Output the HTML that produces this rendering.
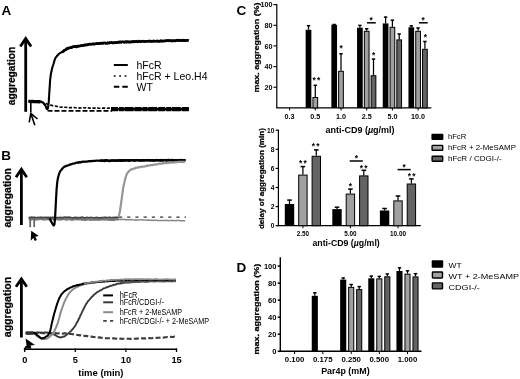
<!DOCTYPE html>
<html><head><meta charset="utf-8"><title>Figure</title>
<style>
html,body{margin:0;padding:0;background:#fff;}
body{width:520px;height:379px;overflow:hidden;}
svg{display:block;font-family:"Liberation Sans",sans-serif;filter:grayscale(1);}
</style></head><body>
<svg width="520" height="379" viewBox="0 0 520 379">
<rect width="520" height="379" fill="#fff"/>
<text x="1.6" y="14.5" text-anchor="start" font-size="13.5" font-weight="bold" fill="#000" >A</text>
<text x="1.3" y="159.8" text-anchor="start" font-size="13.5" font-weight="bold" fill="#000" >B</text>
<text x="236.5" y="15.4" text-anchor="start" font-size="13.5" font-weight="bold" fill="#000" >C</text>
<text x="236.5" y="272.2" text-anchor="start" font-size="13.5" font-weight="bold" fill="#000" >D</text>
<path d="M25.7,111.8 L25.7,38.7" stroke="#000" stroke-width="2.8" fill="none"/>
<path d="M20.299999999999997,46.5 L25.7,38.6 L31.1,46.5" stroke="#000" stroke-width="2.8" fill="none" stroke-linejoin="miter" stroke-linecap="butt"/>
<text transform="translate(14.8,76) rotate(-90)" text-anchor="middle" font-size="11.6" font-weight="bold" textLength="58.5" lengthAdjust="spacingAndGlyphs" stroke="#000" stroke-width="0.25">aggregation</text>
<path d="M28.5,100.8 L29.2,101.1 L29.9,101.0 L30.6,101.1 L31.3,101.2 L32.0,100.8 L32.7,100.8 L33.4,101.4 L34.1,101.0 L34.8,101.0 L35.5,101.6 L36.2,101.3 L36.9,101.6 L37.6,101.3 L38.3,101.4 L39.0,101.0 L39.7,101.4 L40.4,101.6 L41.1,101.5 L41.8,101.9 L42.5,102.2 L43.2,102.4 L43.9,103.7 L44.6,104.5 L45.3,105.4 L46.0,106.9 L46.7,108.9 L47.4,109.1 L48.1,107.7 L48.8,101.1 L49.5,89.6 L50.2,79.3 L50.9,73.8 L51.6,70.7 L52.3,67.5 L53.0,65.5 L53.7,63.3 L54.4,60.7 L55.1,58.8 L55.8,57.4 L56.5,56.8 L57.2,55.6 L57.9,55.0 L58.6,54.1 L59.3,53.7 L60.0,53.2 L60.7,52.7 L61.4,52.3 L62.1,51.8 L62.8,51.6 L63.5,50.9 L64.2,50.6 L64.9,50.1 L65.6,49.8 L66.3,49.2 L67.0,48.5 L67.7,48.7 L68.4,48.5 L69.1,48.2 L69.8,47.8 L70.5,47.7 L71.2,47.2 L71.9,47.5 L72.6,47.2 L73.3,46.8 L74.0,46.6 L74.7,47.0 L75.4,47.0 L76.1,46.2 L76.8,46.6 L77.5,46.3 L78.2,46.0 L78.9,46.0 L79.6,46.2 L80.3,46.2 L81.0,45.5 L81.7,45.8 L82.4,45.2 L83.1,45.6 L83.8,45.2 L84.5,45.5 L85.2,45.4 L85.9,45.0 L86.6,45.2 L87.3,44.6 L88.0,44.4 L88.7,44.6 L89.4,44.1 L90.1,44.1 L90.8,44.2 L91.5,44.2 L92.2,43.8 L92.9,43.7 L93.6,44.2 L94.3,43.7 L95.0,44.1 L95.7,44.0 L96.4,43.6 L97.1,43.6 L97.8,43.6 L98.5,43.6 L99.2,43.5 L99.9,43.4 L100.6,43.4 L101.3,43.6 L102.0,43.3 L102.7,43.2 L103.4,43.3 L104.1,42.9 L104.8,42.9 L105.5,43.4 L106.2,43.0 L106.9,43.0 L107.6,42.6 L108.3,42.8 L109.0,42.9 L109.7,42.5 L110.4,42.9 L111.1,42.8 L111.8,42.4 L112.5,42.7 L113.2,42.6 L113.9,42.7 L114.6,42.4 L115.3,42.6 L116.0,42.6 L116.7,42.1 L117.4,42.1 L118.1,42.5 L118.8,42.6 L119.5,42.1 L120.2,42.2 L120.9,42.3 L121.6,42.0 L122.3,42.0 L123.0,42.0 L123.7,42.0 L124.4,42.1 L125.1,41.9 L125.8,41.9 L126.5,42.1 L127.2,41.6 L127.9,41.9 L128.6,42.0 L129.3,41.7 L130.0,41.6 L130.7,42.0 L131.4,41.6 L132.1,41.5 L132.8,41.7 L133.5,41.8 L134.2,41.4 L134.9,41.5 L135.6,41.5 L136.3,41.8 L137.0,41.5 L137.7,41.8 L138.4,41.3 L139.1,41.4 L139.8,41.6 L140.5,41.7 L141.2,41.4 L141.9,41.2 L142.6,41.2 L143.3,41.4 L144.0,41.2 L144.7,41.6 L145.4,41.6 L146.1,41.1 L146.8,41.2 L147.5,41.5 L148.2,41.4 L148.9,41.5 L149.6,41.1 L150.3,41.0 L151.0,41.1 L151.7,41.4 L152.4,41.0 L153.1,41.1 L153.8,41.1 L154.5,41.1 L155.2,41.1 L155.9,41.4 L156.6,40.8 L157.3,40.7 L158.0,41.4 L158.7,41.3 L159.4,41.4 L160.1,41.0 L160.8,41.3 L161.5,41.3 L162.2,40.7 L162.9,41.1 L163.6,41.1 L164.3,41.0 L165.0,40.9 L165.7,40.7 L166.4,40.7 L167.1,40.6 L167.8,40.5 L168.5,40.9 L169.2,40.6 L169.9,41.0 L170.6,40.4 L171.3,41.0 L172.0,40.8 L172.7,41.0 L173.4,40.9 L174.1,40.9 L174.8,40.7 L175.5,40.3 L176.2,40.8 L176.9,40.4 L177.6,40.4 L178.3,40.7 L179.0,40.6 L179.7,40.5 L180.4,40.8 L181.1,40.6 L181.8,40.4 L182.5,40.3 L183.2,40.7 L183.9,40.4 L184.6,40.6 L185.3,40.3 L186.0,40.2 L186.7,40.4 L187.4,40.6 L188.1,40.1 L188.8,40.5" fill="none" stroke="#000" stroke-width="2.1" stroke-linejoin="round" stroke-linecap="butt" />
<path d="M62.0,52.4 L62.8,51.8 L63.6,51.2 L64.4,50.0 L65.2,50.0 L66.0,49.7 L66.8,48.5 L67.6,48.3 L68.4,48.0 L69.2,47.9 L70.0,47.6 L70.8,47.5 L71.6,47.6 L72.4,46.7 L73.2,46.6 L74.0,46.5 L74.8,46.4 L75.6,46.2 L76.4,46.9 L77.2,46.7 L78.0,45.9 L78.8,46.2 L79.6,45.9 L80.4,45.7 L81.2,45.6 L82.0,45.8 L82.8,45.6 L83.6,45.2 L84.4,44.9 L85.2,44.9 L86.0,44.6 L86.8,44.9 L87.6,44.9 L88.4,44.5 L89.2,44.1 L90.0,44.1 L90.8,44.1 L91.6,44.2 L92.4,44.3 L93.2,43.9 L94.0,44.2 L94.8,43.9 L95.6,43.7 L96.4,43.5 L97.2,43.6 L98.0,43.7 L98.8,43.4 L99.6,43.6 L100.4,43.3 L101.2,43.1 L102.0,43.3 L102.8,43.4 L103.6,42.8 L104.4,43.0 L105.2,43.0 L106.0,43.4 L106.8,43.4 L107.6,42.8 L108.4,43.2 L109.2,43.1 L110.0,42.6 L110.8,42.7 L111.6,42.4 L112.4,42.9 L113.2,42.8 L114.0,42.9 L114.8,42.8 L115.6,42.6 L116.4,42.6 L117.2,42.5 L118.0,42.0 L118.8,42.4 L119.6,41.8 L120.4,41.9 L121.2,42.4 L122.0,41.7 L122.8,41.7 L123.6,41.7 L124.4,42.4 L125.2,41.7 L126.0,41.5 L126.8,42.2 L127.6,41.6 L128.4,42.2 L129.2,42.0 L130.0,42.1 L130.8,42.2 L131.6,41.8 L132.4,42.0 L133.2,41.3 L134.0,41.9 L134.8,41.6 L135.6,41.8 L136.4,41.2 L137.2,41.8 L138.0,41.9 L138.8,41.1 L139.6,41.3 L140.4,41.5 L141.2,41.8 L142.0,41.2 L142.8,41.1 L143.6,41.2 L144.4,41.5 L145.2,41.6 L146.0,41.2 L146.8,41.2 L147.6,41.2 L148.4,41.1 L149.2,41.2 L150.0,40.9 L150.8,41.2 L151.6,41.6 L152.4,41.1 L153.2,41.4 L154.0,40.8 L154.8,41.3 L155.6,41.3 L156.4,41.2 L157.2,41.1 L158.0,41.0 L158.8,41.2 L159.6,41.4 L160.4,40.7 L161.2,40.6 L162.0,41.2 L162.8,41.3 L163.6,40.9 L164.4,40.8 L165.2,41.1 L166.0,40.6 L166.8,40.6 L167.6,40.5 L168.4,40.9 L169.2,40.6 L170.0,40.5 L170.8,40.9 L171.6,41.1 L172.4,40.5 L173.2,40.9 L174.0,40.6 L174.8,41.0 L175.6,40.7 L176.4,40.4 L177.2,40.3 L178.0,40.1 L178.8,40.5 L179.6,40.4 L180.4,40.2 L181.2,40.4 L182.0,40.3 L182.8,40.7 L183.6,40.1 L184.4,40.8 L185.2,40.4 L186.0,40.5 L186.8,40.3 L187.6,40.6 L188.4,40.6" fill="none" stroke="#000" stroke-width="2.6" stroke-linejoin="round" stroke-linecap="butt" />
<path d="M28.5,101.4 L40.5,101.8" fill="none" stroke="#000" stroke-width="3.2" stroke-linejoin="round" stroke-linecap="butt" />
<path d="M30.8,101.0 L30.8,112.5" fill="none" stroke="#000" stroke-width="1.6" stroke-linejoin="round" stroke-linecap="butt" />
<path d="M29.2,122.3 L30.8,113.3 L37.5,119.0" fill="none" stroke="#000" stroke-width="1.6" stroke-linejoin="round" stroke-linecap="butt" />
<path d="M30.8,113.3 L34.8,125.3" fill="none" stroke="#000" stroke-width="1.6" stroke-linejoin="round" stroke-linecap="butt" />
<path d="M41.0,102.3 L42.0,102.5 L43.0,102.8 L44.0,103.1 L45.0,103.2 L46.0,103.6 L47.0,104.0 L48.0,104.2 L49.0,104.4 L50.0,104.7 L51.0,105.2 L52.0,105.4 L53.0,105.8 L54.0,106.0 L55.0,106.0 L56.0,106.2 L57.0,106.4 L58.0,106.5 L59.0,106.9 L60.0,107.0 L61.0,107.2 L62.0,107.0 L63.0,107.3 L64.0,107.2 L65.0,107.3 L66.0,107.5 L67.0,107.3 L68.0,107.3 L69.0,107.7 L70.0,107.5 L71.0,107.6 L72.0,107.7 L73.0,107.8 L74.0,107.5 L75.0,107.7 L76.0,107.8 L77.0,107.8 L78.0,107.7 L79.0,107.9 L80.0,108.1 L81.0,107.8 L82.0,107.9 L83.0,107.8 L84.0,107.8 L85.0,108.0 L86.0,107.8 L87.0,108.1 L88.0,108.1 L89.0,107.8 L90.0,108.2 L91.0,108.0 L92.0,108.1 L93.0,108.1 L94.0,108.0 L95.0,108.1 L96.0,108.1 L97.0,108.2 L98.0,108.0 L99.0,108.2 L100.0,108.3 L101.0,108.2 L102.0,108.1 L103.0,108.0 L104.0,108.1 L105.0,108.1 L106.0,108.2 L107.0,108.2 L108.0,108.2 L109.0,108.0 L110.0,108.2 L111.0,108.2 L112.0,108.1" fill="none" stroke="#000" stroke-width="1.6" stroke-linejoin="round" stroke-linecap="butt" stroke-dasharray="3.2 1.6" />
<path d="M47.5,110.6 L50.0,110.8 L112.0,110.8" fill="none" stroke="#000" stroke-width="1.7" stroke-linejoin="round" stroke-linecap="butt" stroke-dasharray="5 2" />
<path d="M111.0,109.2 L188.8,109.2" fill="none" stroke="#000" stroke-width="4.3" stroke-linejoin="round" stroke-linecap="butt" stroke-dasharray="7 0.9 5 0.7 9 1" />
<path d="M111.0,109.2 L188.8,109.2" fill="none" stroke="#000" stroke-width="2.6" stroke-linejoin="round" stroke-linecap="butt" />
<path d="M113.8,65.0 L127.8,65.0" fill="none" stroke="#000" stroke-width="2" stroke-linejoin="round" stroke-linecap="butt" />
<path d="M113.8,76.0 L127.8,76.0" fill="none" stroke="#000" stroke-width="1.6" stroke-linejoin="round" stroke-linecap="butt" stroke-dasharray="1.8 3.6" />
<path d="M113.8,86.8 L127.8,86.8" fill="none" stroke="#000" stroke-width="2" stroke-linejoin="round" stroke-linecap="butt" stroke-dasharray="5.5 3" />
<text x="136.5" y="68.8" text-anchor="start" font-size="10.5" font-weight="normal" fill="#000" >hFcR</text>
<text x="136.5" y="79.8" text-anchor="start" font-size="10.5" font-weight="normal" fill="#000" textLength="71" lengthAdjust="spacingAndGlyphs" >hFcR + Leo.H4</text>
<text x="136.5" y="90.6" text-anchor="start" font-size="10.5" font-weight="normal" fill="#000" >WT</text>
<path d="M21.4,225 L21.4,169.4" stroke="#000" stroke-width="2.8" fill="none"/>
<path d="M15.999999999999998,177.20000000000002 L21.4,169.3 L26.799999999999997,177.20000000000002" stroke="#000" stroke-width="2.8" fill="none" stroke-linejoin="miter" stroke-linecap="butt"/>
<text transform="translate(10.8,197.8) rotate(-90)" text-anchor="middle" font-size="11.8" font-weight="bold" textLength="59.5" lengthAdjust="spacingAndGlyphs" stroke="#000" stroke-width="0.25">aggregation</text>
<path d="M28.7,218.9 L29.7,218.7 L30.7,218.1 L31.7,218.9 L32.7,218.2 L33.7,218.3 L34.7,218.7 L35.7,218.6 L36.7,218.6 L37.7,218.7 L38.7,218.5 L39.7,218.3 L40.7,218.2 L41.7,218.1 L42.7,218.8 L43.7,218.8 L44.7,218.6 L45.7,218.8 L46.7,218.4 L47.7,218.3 L48.7,218.4 L49.7,218.9 L50.7,218.1 L51.7,218.6 L52.7,218.3 L53.7,218.8 L54.7,218.4 L55.7,218.4 L56.7,218.5 L57.7,218.6 L58.7,218.9 L59.7,218.5 L60.7,218.9 L61.7,218.2 L62.7,218.4 L63.7,218.2 L64.7,218.2 L65.7,218.9 L66.7,218.9 L67.7,218.3 L68.7,218.3 L69.7,218.6 L70.7,218.9 L71.7,219.0 L72.7,218.9 L73.7,218.8 L74.7,218.3 L75.7,218.6 L76.7,218.4 L77.7,218.7 L78.7,218.8 L79.7,218.4 L80.7,218.4 L81.7,219.0 L82.7,218.2 L83.7,219.0 L84.7,219.1 L85.7,219.2 L86.7,218.6 L87.7,218.8 L88.7,218.8 L89.7,218.9 L90.7,219.2 L91.7,218.9 L92.7,218.6 L93.7,219.1 L94.7,218.8 L95.7,218.9 L96.7,219.0 L97.7,218.3 L98.7,219.1 L99.7,219.0 L100.7,218.8 L101.7,218.8 L102.7,218.8 L103.7,218.5 L104.7,218.9 L105.7,218.4 L106.7,218.8 L107.7,219.0 L108.7,218.8 L109.7,218.9 L110.7,219.3 L111.7,219.3 L112.7,218.5 L113.7,219.2 L114.7,219.0 L115.7,218.4 L116.7,218.7 L117.7,218.6 L118.7,218.5" fill="none" stroke="#777" stroke-width="3.6" stroke-linejoin="round" stroke-linecap="butt" />
<path d="M118.0,219.3 L119.2,219.5 L120.4,219.3 L121.6,219.6 L122.8,219.5 L124.0,219.3 L125.2,219.7 L126.4,219.6 L127.6,219.8 L128.8,219.7 L130.0,219.7 L131.2,219.6 L132.4,219.8 L133.6,219.9 L134.8,219.9 L136.0,219.8 L137.2,220.0 L138.4,219.9 L139.6,219.8 L140.8,219.8 L142.0,219.8 L143.2,219.9 L144.4,219.9 L145.6,220.1 L146.8,220.2 L148.0,220.2 L149.2,220.1 L150.4,220.3 L151.6,220.2 L152.8,220.2 L154.0,220.4 L155.2,220.3 L156.4,220.2 L157.6,220.5 L158.8,220.5 L160.0,220.4 L161.2,220.4 L162.4,220.5 L163.6,220.5 L164.8,220.4 L166.0,220.3 L167.2,220.4 L168.4,220.7 L169.6,220.5 L170.8,220.6 L172.0,220.5 L173.2,220.5 L174.4,220.6 L175.6,220.7 L176.8,220.6 L178.0,220.6 L179.2,220.6 L180.4,220.7 L181.6,220.8 L182.8,220.7 L184.0,220.7 L185.2,220.9" fill="none" stroke="#888" stroke-width="1.5" stroke-linejoin="round" stroke-linecap="butt" />
<path d="M28.7,217.5 L29.9,217.7 L31.1,217.3 L32.3,217.5 L33.5,217.5 L34.7,217.3 L35.9,217.9 L37.1,217.4 L38.3,217.4 L39.5,217.6 L40.7,217.4 L41.9,217.7 L43.1,217.5 L44.3,217.4 L45.5,217.3 L46.7,217.7 L47.9,217.5 L49.1,217.8 L50.3,217.6 L51.5,217.9 L52.7,217.5 L53.9,217.5 L55.1,217.5 L56.3,217.8 L57.5,217.7 L58.7,217.5 L59.9,217.4 L61.1,217.7 L62.3,217.9 L63.5,217.6 L64.7,217.3 L65.9,217.3 L67.1,217.3 L68.3,217.4 L69.5,217.3 L70.7,217.3 L71.9,217.7 L73.1,217.8 L74.3,217.4 L75.5,217.8 L76.7,217.5 L77.9,217.7 L79.1,217.8 L80.3,217.8 L81.5,217.3 L82.7,217.4 L83.9,217.6 L85.1,217.8 L86.3,217.3 L87.5,217.4 L88.7,217.7 L89.9,217.3 L91.1,217.4 L92.3,217.4 L93.5,217.6 L94.7,217.7 L95.9,217.3 L97.1,217.6 L98.3,217.6 L99.5,217.7 L100.7,217.5 L101.9,217.7 L103.1,217.4 L104.3,217.4 L105.5,217.3 L106.7,217.6 L107.9,217.4 L109.1,217.3 L110.3,217.2 L111.5,217.6 L112.7,217.5 L113.9,217.5 L115.1,217.3 L116.3,217.4 L117.5,217.2 L118.7,217.5" fill="none" stroke="#444" stroke-width="1.4" stroke-linejoin="round" stroke-linecap="butt" />
<path d="M119.0,217.2 L186.0,217.2" fill="none" stroke="#333" stroke-width="1.3" stroke-linejoin="round" stroke-linecap="butt" stroke-dasharray="3.2 5" />
<path d="M30.2,219.0 L30.2,227.2" fill="none" stroke="#666" stroke-width="1.8" stroke-linejoin="round" stroke-linecap="butt" />
<path d="M34.2,219.0 L34.2,227.2" fill="none" stroke="#666" stroke-width="1.8" stroke-linejoin="round" stroke-linecap="butt" />
<path d="M31.2,230.8 L38.8,235.9 L35.4,236.8 L36.9,240 L34.8,240.9 L33.3,237.9 L30.7,240.8 Z" fill="#000"/>
<path d="M49.6,218.3 L50.3,219.8 L51.0,221.3 L51.7,222.5 L52.4,223.7 L53.1,224.9 L53.8,225.5 L54.5,224.1 L55.2,215.8 L55.9,201.8 L56.6,189.2 L57.3,181.9 L58.0,177.8 L58.7,175.2 L59.4,173.2 L60.1,171.4 L60.8,170.5 L61.5,169.9 L62.2,168.6 L62.9,168.1 L63.6,167.3 L64.3,166.7 L65.0,166.7 L65.7,166.2 L66.4,165.8 L67.1,165.6 L67.8,165.6 L68.5,165.3 L69.2,164.7 L69.9,164.5 L70.6,164.7 L71.3,164.0 L72.0,164.0 L72.7,163.7 L73.4,163.7 L74.1,163.5 L74.8,163.4 L75.5,163.1 L76.2,162.8 L76.9,162.6 L77.6,162.4 L78.3,162.8 L79.0,162.2 L79.7,162.0 L80.4,162.5 L81.1,161.9 L81.8,162.2 L82.5,161.7 L83.2,161.8 L83.9,161.6 L84.6,161.8 L85.3,161.6 L86.0,161.6 L86.7,161.6 L87.4,161.6 L88.1,161.2 L88.8,161.3 L89.5,161.2 L90.2,160.9 L90.9,161.3 L91.6,161.1 L92.3,161.2 L93.0,160.8 L93.7,161.0 L94.4,160.9 L95.1,161.0 L95.8,160.6 L96.5,160.7 L97.2,160.7 L97.9,160.5 L98.6,160.7 L99.3,160.8 L100.0,160.6 L100.7,160.7 L101.4,160.6 L102.1,160.4 L102.8,160.5 L103.5,160.8 L104.2,160.4 L104.9,160.4 L105.6,160.2 L106.3,160.3 L107.0,160.2 L107.7,160.7 L108.4,160.6 L109.1,160.6 L109.8,160.7 L110.5,160.5 L111.2,160.6 L111.9,160.4 L112.6,160.3 L113.3,160.6 L114.0,160.6 L114.7,160.6 L115.4,160.3 L116.1,160.5 L116.8,160.3 L117.5,160.6 L118.2,160.6 L118.9,160.2 L119.6,160.6 L120.3,160.1 L121.0,160.1 L121.7,160.4 L122.4,160.2 L123.1,160.3 L123.8,160.4 L124.5,160.0 L125.2,160.4 L125.9,160.1 L126.6,160.2 L127.3,160.2 L128.0,160.4 L128.7,160.4 L129.4,160.1 L130.1,160.0 L130.8,160.1 L131.5,160.2 L132.2,160.0 L132.9,160.1 L133.6,160.4 L134.3,160.4 L135.0,160.5 L135.7,160.5 L136.4,160.5 L137.1,160.2 L137.8,160.1 L138.5,160.1 L139.2,160.2 L139.9,160.3 L140.6,160.3 L141.3,160.2 L142.0,160.5 L142.7,160.1 L143.4,160.2 L144.1,160.5 L144.8,160.4 L145.5,160.1 L146.2,160.1 L146.9,160.4 L147.6,160.0 L148.3,160.0 L149.0,160.3 L149.7,160.3 L150.4,160.1 L151.1,160.0 L151.8,160.1 L152.5,160.4 L153.2,160.2 L153.9,160.6 L154.6,160.4 L155.3,160.6 L156.0,160.0 L156.7,160.1 L157.4,160.0 L158.1,160.2 L158.8,160.2 L159.5,160.0 L160.2,160.3 L160.9,160.0 L161.6,160.2 L162.3,160.1 L163.0,160.5 L163.7,160.2 L164.4,160.1 L165.1,160.0 L165.8,160.2 L166.5,160.4 L167.2,160.4 L167.9,160.5 L168.6,160.5 L169.3,160.1 L170.0,160.1 L170.7,160.5 L171.4,160.5 L172.1,160.3 L172.8,160.5 L173.5,160.3 L174.2,160.2 L174.9,160.1 L175.6,160.0 L176.3,160.4 L177.0,160.5 L177.7,160.5 L178.4,160.3 L179.1,160.4 L179.8,160.6 L180.5,160.5 L181.2,160.4 L181.9,160.3 L182.6,160.3 L183.3,160.1 L184.0,160.1 L184.7,160.4 L185.4,160.6" fill="none" stroke="#000" stroke-width="2.2" stroke-linejoin="round" stroke-linecap="butt" />
<path d="M100.0,160.8 L100.8,160.7 L101.6,160.7 L102.4,160.7 L103.2,161.0 L104.0,160.7 L104.8,161.1 L105.6,160.5 L106.4,160.6 L107.2,160.7 L108.0,160.7 L108.8,161.0 L109.6,160.9 L110.4,161.0 L111.2,160.8 L112.0,160.3 L112.8,160.7 L113.6,160.7 L114.4,160.6 L115.2,160.5 L116.0,160.8 L116.8,160.9 L117.6,160.3 L118.4,160.7 L119.2,160.5 L120.0,160.6 L120.8,160.9 L121.6,160.9 L122.4,160.7 L123.2,160.3 L124.0,160.8 L124.8,160.3 L125.6,160.4 L126.4,160.7 L127.2,160.4 L128.0,160.3 L128.8,160.8 L129.6,160.8 L130.4,160.4 L131.2,160.4 L132.0,160.3 L132.8,160.2 L133.6,160.3 L134.4,160.8 L135.2,160.1 L136.0,160.2 L136.8,160.2 L137.6,160.1 L138.4,160.4 L139.2,160.6 L140.0,160.6 L140.8,160.5 L141.6,160.6 L142.4,160.0 L143.2,160.2 L144.0,160.7 L144.8,160.1 L145.6,160.2 L146.4,160.3 L147.2,160.2 L148.0,160.4 L148.8,160.0 L149.6,160.2 L150.4,160.7 L151.2,160.1 L152.0,160.6 L152.8,160.1 L153.6,160.7 L154.4,160.4 L155.2,160.4 L156.0,160.1 L156.8,160.0 L157.6,160.5 L158.4,160.1 L159.2,160.1 L160.0,160.5 L160.8,160.6 L161.6,160.0 L162.4,160.6 L163.2,160.3 L164.0,160.2 L164.8,160.0 L165.6,160.2 L166.4,160.6 L167.2,160.1 L168.0,160.0 L168.8,160.0 L169.6,160.0 L170.4,160.2 L171.2,160.5 L172.0,160.0 L172.8,160.0 L173.6,160.6 L174.4,160.6 L175.2,160.6 L176.0,160.1 L176.8,160.1 L177.6,160.5 L178.4,160.2 L179.2,160.4 L180.0,160.1 L180.8,159.9 L181.6,160.1 L182.4,160.4 L183.2,160.4 L184.0,160.3 L184.8,160.2 L185.6,160.2" fill="none" stroke="#000" stroke-width="2.3" stroke-linejoin="round" stroke-linecap="butt" />
<path d="M118.5,217.0 L119.2,214.6 L119.9,211.6 L120.6,206.5 L121.3,201.5 L122.0,196.6 L122.7,191.4 L123.4,186.7 L124.1,183.7 L124.8,180.7 L125.5,177.7 L126.2,175.6 L126.9,174.0 L127.6,172.7 L128.3,172.1 L129.0,171.0 L129.7,170.6 L130.4,169.7 L131.1,169.3 L131.8,169.4 L132.5,169.1 L133.2,168.9 L133.9,168.6 L134.6,168.3 L135.3,168.3 L136.0,167.7 L136.7,167.8 L137.4,167.6 L138.1,167.3 L138.8,167.4 L139.5,167.1 L140.2,167.1 L140.9,166.9 L141.6,166.7 L142.3,166.6 L143.0,166.6 L143.7,166.7 L144.4,166.5 L145.1,166.3 L145.8,166.2 L146.5,165.8 L147.2,166.0 L147.9,165.6 L148.6,165.4 L149.3,165.4 L150.0,165.4 L150.7,165.1 L151.4,165.2 L152.1,164.9 L152.8,165.1 L153.5,164.7 L154.2,164.6 L154.9,164.5 L155.6,164.6 L156.3,164.5 L157.0,164.2 L157.7,164.1 L158.4,164.0 L159.1,163.7 L159.8,163.7 L160.5,163.8 L161.2,163.7 L161.9,163.3 L162.6,163.6 L163.3,163.2 L164.0,163.5 L164.7,163.1 L165.4,162.9 L166.1,163.0 L166.8,163.1 L167.5,162.8 L168.2,163.0 L168.9,162.9 L169.6,162.6 L170.3,162.5 L171.0,162.6 L171.7,162.5 L172.4,162.4 L173.1,162.5 L173.8,162.6 L174.5,162.4 L175.2,162.1 L175.9,162.1 L176.6,162.1 L177.3,162.2 L178.0,161.9 L178.7,161.9 L179.4,161.9 L180.1,161.9 L180.8,161.7 L181.5,161.9 L182.2,162.1 L182.9,161.9 L183.6,161.9 L184.3,161.9 L185.0,161.9" fill="none" stroke="#969696" stroke-width="2.2" stroke-linejoin="round" stroke-linecap="butt" />
<path d="M21.4,337.5 L21.4,279" stroke="#000" stroke-width="2.8" fill="none"/>
<path d="M15.999999999999998,286.8 L21.4,278.9 L26.799999999999997,286.8" stroke="#000" stroke-width="2.8" fill="none" stroke-linejoin="miter" stroke-linecap="butt"/>
<text transform="translate(10.8,307) rotate(-90)" text-anchor="middle" font-size="11.8" font-weight="bold" textLength="60.5" lengthAdjust="spacingAndGlyphs" stroke="#000" stroke-width="0.25">aggregation</text>
<path d="M23.8,349.2 L177.2,349.2" fill="none" stroke="#000" stroke-width="1.5" stroke-linejoin="round" stroke-linecap="butt" />
<path d="M24.7,348.5 L24.7,352.0" fill="none" stroke="#000" stroke-width="1.3" stroke-linejoin="round" stroke-linecap="butt" />
<text x="24.7" y="362.6" text-anchor="middle" font-size="9.2" font-weight="bold" fill="#000" >0</text>
<path d="M75.3,348.5 L75.3,352.0" fill="none" stroke="#000" stroke-width="1.3" stroke-linejoin="round" stroke-linecap="butt" />
<text x="75.3" y="362.6" text-anchor="middle" font-size="9.2" font-weight="bold" fill="#000" >5</text>
<path d="M125.9,348.5 L125.9,352.0" fill="none" stroke="#000" stroke-width="1.3" stroke-linejoin="round" stroke-linecap="butt" />
<text x="125.9" y="362.6" text-anchor="middle" font-size="9.2" font-weight="bold" fill="#000" >10</text>
<path d="M176.5,348.5 L176.5,352.0" fill="none" stroke="#000" stroke-width="1.3" stroke-linejoin="round" stroke-linecap="butt" />
<text x="176.5" y="362.6" text-anchor="middle" font-size="9.2" font-weight="bold" fill="#000" >15</text>
<text x="100.9" y="376" text-anchor="middle" font-size="9.5" font-weight="bold" fill="#000" textLength="45.2" lengthAdjust="spacingAndGlyphs" >time (min)</text>
<path d="M25.8,333.4 L27.0,333.2 L28.2,333.3 L29.4,333.0 L30.6,333.3 L31.8,333.1 L33.0,333.2 L34.2,333.3 L35.4,333.1 L36.6,333.0 L37.8,333.3 L39.0,333.2 L40.2,333.0 L41.4,333.0 L42.6,333.1 L43.8,333.0 L45.0,333.3 L46.2,333.0 L47.4,333.1 L48.6,333.1 L49.8,333.2 L51.0,333.2 L52.2,333.3 L53.4,333.3 L54.6,333.2 L55.8,333.1 L57.0,333.5 L58.2,333.4 L59.4,333.2 L60.6,333.4 L61.8,333.5 L63.0,333.7 L64.2,333.3 L65.4,333.4 L66.6,333.6 L67.8,333.7 L69.0,334.0 L70.2,334.0 L71.4,334.0 L72.6,334.2 L73.8,334.4 L75.0,334.8 L76.2,334.7 L77.4,335.0 L78.6,335.0 L79.8,335.4 L81.0,335.3 L82.2,335.8 L83.4,335.8 L84.6,336.0 L85.8,335.9 L87.0,336.1 L88.2,336.3 L89.4,336.6 L90.6,336.6 L91.8,336.6 L93.0,337.0 L94.2,337.0 L95.4,337.1 L96.6,337.1 L97.8,337.3 L99.0,337.6 L100.2,337.4 L101.4,337.7 L102.6,337.9 L103.8,337.9 L105.0,338.1 L106.2,338.2 L107.4,338.3 L108.6,338.3 L109.8,338.2 L111.0,338.2 L112.2,338.4 L113.4,338.4 L114.6,338.4 L115.8,338.7 L117.0,338.5 L118.2,338.8 L119.4,338.9 L120.6,338.6 L121.8,338.9 L123.0,338.7 L124.2,338.7 L125.4,338.7 L126.6,338.6 L127.8,338.8 L129.0,338.7 L130.2,338.9 L131.4,338.9 L132.6,338.6 L133.8,338.7 L135.0,338.7 L136.2,338.6 L137.4,338.6 L138.6,338.5 L139.8,338.7 L141.0,338.5 L142.2,338.3 L143.4,338.4 L144.6,338.4 L145.8,338.4 L147.0,338.2 L148.2,338.4 L149.4,338.1 L150.6,338.2 L151.8,338.2 L153.0,337.9 L154.2,338.1 L155.4,337.9 L156.6,337.9 L157.8,337.8 L159.0,337.8 L160.2,337.6 L161.4,337.4 L162.6,337.6 L163.8,337.6 L165.0,337.3 L166.2,337.3 L167.4,337.1 L168.6,337.3 L169.8,337.1 L171.0,336.8 L172.2,337.0 L173.4,337.0 L174.6,336.6 L175.8,336.8" fill="none" stroke="#3c3c3c" stroke-width="2.1" stroke-linejoin="round" stroke-linecap="butt" stroke-dasharray="5 2.3" />
<path d="M25.8,332.8 L26.5,332.6 L27.2,332.9 L27.9,332.7 L28.6,332.9 L29.3,332.8 L30.0,332.5 L30.7,332.7 L31.4,332.9 L32.1,332.7 L32.8,332.7 L33.5,332.8 L34.2,332.6 L34.9,332.6 L35.6,332.6 L36.3,332.7 L37.0,332.4 L37.7,332.3 L38.4,332.7 L39.1,332.5 L39.8,332.4 L40.5,332.7 L41.2,332.7 L41.9,332.5 L42.6,332.7 L43.3,332.7 L44.0,332.6 L44.7,332.4 L45.4,332.3 L46.1,332.6 L46.8,332.7 L47.5,332.5 L48.2,332.6 L48.9,332.7 L49.6,332.7 L50.3,333.1 L51.0,333.3 L51.7,333.4 L52.4,333.6 L53.1,334.1 L53.8,334.3 L54.5,334.9 L55.2,335.0 L55.9,335.6 L56.6,335.9 L57.3,336.4 L58.0,336.9 L58.7,336.9 L59.4,337.1 L60.1,337.5 L60.8,337.3 L61.5,337.4 L62.2,337.0 L62.9,336.7 L63.6,336.7 L64.3,336.5 L65.0,336.1 L65.7,335.5 L66.4,335.0 L67.1,334.3 L67.8,333.8 L68.5,333.3 L69.2,332.9 L69.9,331.8 L70.6,331.5 L71.3,330.6 L72.0,329.8 L72.7,328.9 L73.4,328.4 L74.1,327.1 L74.8,326.3 L75.5,325.2 L76.2,323.9 L76.9,322.6 L77.6,321.6 L78.3,320.0 L79.0,318.5 L79.7,317.1 L80.4,315.3 L81.1,314.2 L81.8,312.7 L82.5,311.0 L83.2,309.7 L83.9,308.5 L84.6,306.8 L85.3,305.7 L86.0,304.2 L86.7,303.4 L87.4,302.1 L88.1,301.2 L88.8,300.2 L89.5,299.6 L90.2,298.8 L90.9,297.9 L91.6,297.2 L92.3,296.4 L93.0,295.9 L93.7,294.9 L94.4,294.5 L95.1,293.9 L95.8,293.3 L96.5,292.6 L97.2,292.2 L97.9,291.9 L98.6,291.3 L99.3,291.1 L100.0,290.5 L100.7,290.4 L101.4,289.9 L102.1,289.5 L102.8,288.9 L103.5,288.4 L104.2,288.3 L104.9,288.1 L105.6,287.9 L106.3,287.3 L107.0,287.0 L107.7,287.2 L108.4,286.8 L109.1,286.4 L109.8,286.3 L110.5,285.8 L111.2,285.8 L111.9,285.6 L112.6,285.4 L113.3,284.9 L114.0,284.7 L114.7,284.7 L115.4,284.7 L116.1,284.1 L116.8,283.8 L117.5,283.7 L118.2,283.9 L118.9,283.5 L119.6,283.4 L120.3,283.6 L121.0,283.3 L121.7,283.0 L122.4,283.2 L123.1,282.7 L123.8,282.8 L124.5,282.9 L125.2,282.6 L125.9,282.4 L126.6,282.6 L127.3,282.5 L128.0,282.7 L128.7,282.2 L129.4,282.5 L130.1,282.3 L130.8,282.4 L131.5,282.2 L132.2,282.3 L132.9,282.1 L133.6,282.0 L134.3,282.0 L135.0,282.2 L135.7,281.9 L136.4,281.8 L137.1,281.8 L137.8,281.6 L138.5,281.7 L139.2,281.8 L139.9,281.7 L140.6,281.7 L141.3,281.5 L142.0,281.4 L142.7,281.3 L143.4,281.5 L144.1,281.4 L144.8,281.5 L145.5,281.3 L146.2,281.6 L146.9,281.5 L147.6,281.5 L148.3,281.5 L149.0,281.3 L149.7,281.3 L150.4,281.2 L151.1,281.0 L151.8,281.4 L152.5,281.2 L153.2,281.0 L153.9,281.4 L154.6,281.2 L155.3,281.2 L156.0,281.1 L156.7,280.9 L157.4,281.3 L158.1,280.9 L158.8,281.0 L159.5,281.3 L160.2,280.8 L160.9,281.0 L161.6,281.0 L162.3,280.8 L163.0,281.1 L163.7,280.9 L164.4,280.6 L165.1,280.9 L165.8,280.6 L166.5,280.9 L167.2,281.0 L167.9,281.0 L168.6,280.6 L169.3,280.9 L170.0,280.7 L170.7,280.7 L171.4,280.6 L172.1,280.6 L172.8,280.5 L173.5,280.7 L174.2,280.4 L174.9,280.9 L175.6,280.4" fill="none" stroke="#3a3a3a" stroke-width="1.9" stroke-linejoin="round" stroke-linecap="butt" />
<path d="M25.8,333.6 L26.5,333.3 L27.2,333.2 L27.9,333.5 L28.6,333.4 L29.3,333.5 L30.0,333.4 L30.7,333.4 L31.4,333.2 L32.1,333.5 L32.8,333.5 L33.5,333.9 L34.2,333.6 L34.9,334.0 L35.6,334.8 L36.3,335.5 L37.0,335.8 L37.7,336.6 L38.4,337.0 L39.1,337.3 L39.8,337.8 L40.5,338.2 L41.2,338.3 L41.9,338.7 L42.6,339.1 L43.3,338.9 L44.0,339.0 L44.7,338.9 L45.4,338.8 L46.1,338.8 L46.8,338.6 L47.5,338.4 L48.2,337.8 L48.9,337.2 L49.6,336.7 L50.3,335.9 L51.0,335.4 L51.7,334.9 L52.4,334.3 L53.1,333.2 L53.8,332.1 L54.5,330.7 L55.2,329.3 L55.9,327.9 L56.6,326.1 L57.3,324.5 L58.0,322.3 L58.7,319.8 L59.4,317.3 L60.1,314.5 L60.8,312.3 L61.5,310.0 L62.2,307.8 L62.9,306.0 L63.6,304.0 L64.3,302.2 L65.0,300.7 L65.7,299.1 L66.4,297.9 L67.1,296.6 L67.8,295.4 L68.5,294.0 L69.2,293.3 L69.9,292.3 L70.6,291.5 L71.3,290.9 L72.0,290.2 L72.7,289.5 L73.4,289.1 L74.1,288.7 L74.8,288.3 L75.5,287.9 L76.2,287.2 L76.9,287.1 L77.6,286.7 L78.3,286.3 L79.0,286.1 L79.7,285.4 L80.4,285.4 L81.1,285.2 L81.8,284.6 L82.5,284.6 L83.2,284.6 L83.9,284.1 L84.6,284.2 L85.3,284.1 L86.0,283.7 L86.7,283.4 L87.4,283.3 L88.1,283.5 L88.8,283.2 L89.5,283.0 L90.2,283.0 L90.9,283.1 L91.6,282.7 L92.3,282.5 L93.0,282.8 L93.7,282.4 L94.4,282.4 L95.1,282.6 L95.8,282.2 L96.5,282.0 L97.2,282.3 L97.9,281.9 L98.6,281.8 L99.3,282.1 L100.0,281.7 L100.7,281.9 L101.4,281.6 L102.1,281.5 L102.8,281.3 L103.5,281.4 L104.2,281.3 L104.9,281.2 L105.6,281.1 L106.3,281.0 L107.0,281.2 L107.7,281.1 L108.4,281.0 L109.1,280.9 L109.8,280.5 L110.5,280.5 L111.2,280.4 L111.9,280.3 L112.6,280.7 L113.3,280.6 L114.0,280.5 L114.7,280.3 L115.4,280.0 L116.1,280.1 L116.8,279.9 L117.5,280.3 L118.2,279.9 L118.9,279.9 L119.6,280.2 L120.3,279.8 L121.0,280.2 L121.7,279.9 L122.4,280.0 L123.1,279.7 L123.8,280.1 L124.5,279.9 L125.2,279.8 L125.9,280.0 L126.6,279.9 L127.3,279.8 L128.0,279.7 L128.7,279.9 L129.4,279.6 L130.1,280.0 L130.8,279.8 L131.5,279.7 L132.2,279.8 L132.9,279.7 L133.6,279.8 L134.3,279.9 L135.0,279.8 L135.7,279.8 L136.4,279.7 L137.1,279.8 L137.8,280.0 L138.5,279.8 L139.2,280.0 L139.9,279.8 L140.6,279.7 L141.3,279.7 L142.0,280.0 L142.7,279.9 L143.4,279.8 L144.1,279.9 L144.8,280.1 L145.5,279.8 L146.2,279.8 L146.9,279.8 L147.6,279.7 L148.3,279.9 L149.0,279.9 L149.7,279.9 L150.4,279.9 L151.1,279.9 L151.8,280.1 L152.5,279.8 L153.2,280.2 L153.9,279.8 L154.6,280.2 L155.3,279.8 L156.0,280.2 L156.7,279.9 L157.4,279.8 L158.1,280.1 L158.8,280.2 L159.5,280.2 L160.2,280.2 L160.9,280.3 L161.6,279.9 L162.3,280.0 L163.0,279.9 L163.7,280.2 L164.4,280.1 L165.1,280.2 L165.8,280.3 L166.5,280.4 L167.2,280.2 L167.9,280.3 L168.6,280.2 L169.3,279.9 L170.0,280.4 L170.7,280.0 L171.4,280.0 L172.1,280.3 L172.8,280.1 L173.5,280.3 L174.2,280.0 L174.9,280.1 L175.6,280.3" fill="none" stroke="#8a8a8a" stroke-width="2.0" stroke-linejoin="round" stroke-linecap="butt" />
<path d="M25.8,332.6 L26.5,332.8 L27.2,333.0 L27.9,332.6 L28.6,332.8 L29.3,332.8 L30.0,332.7 L30.7,332.8 L31.4,332.8 L32.1,332.4 L32.8,332.6 L33.5,332.9 L34.2,333.2 L34.9,333.1 L35.6,333.8 L36.3,334.1 L37.0,335.1 L37.7,335.5 L38.4,336.1 L39.1,336.7 L39.8,337.1 L40.5,337.9 L41.2,338.3 L41.9,338.5 L42.6,338.2 L43.3,338.1 L44.0,337.8 L44.7,337.7 L45.4,337.0 L46.1,336.5 L46.8,336.2 L47.5,335.8 L48.2,334.9 L48.9,333.9 L49.6,332.8 L50.3,330.6 L51.0,327.4 L51.7,323.8 L52.4,321.0 L53.1,318.1 L53.8,315.3 L54.5,312.6 L55.2,310.4 L55.9,307.8 L56.6,305.5 L57.3,303.3 L58.0,301.5 L58.7,299.7 L59.4,297.9 L60.1,296.8 L60.8,295.5 L61.5,294.4 L62.2,293.6 L62.9,292.8 L63.6,292.1 L64.3,291.4 L65.0,290.9 L65.7,290.3 L66.4,290.0 L67.1,289.3 L67.8,289.1 L68.5,288.5 L69.2,288.4 L69.9,287.7 L70.6,287.5 L71.3,287.2 L72.0,287.1 L72.7,286.5 L73.4,286.3 L74.1,286.0 L74.8,286.0 L75.5,285.8 L76.2,285.3 L76.9,285.2 L77.6,285.0 L78.3,285.2 L79.0,284.8 L79.7,284.7 L80.4,284.4 L81.1,284.4 L81.8,284.3 L82.5,284.1 L83.2,283.6 L83.9,283.7 L84.6,283.6 L85.3,283.2 L86.0,283.5 L86.7,283.2 L87.4,283.0 L88.1,283.1 L88.8,283.0 L89.5,282.9 L90.2,283.0 L90.9,282.7 L91.6,282.6 L92.3,282.3 L93.0,282.5 L93.7,282.3 L94.4,282.4 L95.1,282.2 L95.8,281.9 L96.5,281.9 L97.2,281.9 L97.9,281.8 L98.6,282.1 L99.3,281.9 L100.0,281.7 L100.7,281.8 L101.4,281.7 L102.1,281.4 L102.8,281.7 L103.5,281.4 L104.2,281.7 L104.9,281.2 L105.6,281.2 L106.3,281.2 L107.0,281.4 L107.7,281.3 L108.4,281.2 L109.1,280.9 L109.8,281.0 L110.5,281.1 L111.2,280.7 L111.9,281.1 L112.6,281.1 L113.3,281.1 L114.0,280.9 L114.7,280.8 L115.4,281.0 L116.1,280.6 L116.8,280.6 L117.5,280.5 L118.2,280.5 L118.9,280.8 L119.6,280.4 L120.3,280.7 L121.0,280.5 L121.7,280.7 L122.4,280.7 L123.1,280.6 L123.8,280.7 L124.5,280.3 L125.2,280.4 L125.9,280.4 L126.6,280.4 L127.3,280.5 L128.0,280.6 L128.7,280.6 L129.4,280.6 L130.1,280.5 L130.8,280.3 L131.5,280.4 L132.2,280.5 L132.9,280.6 L133.6,280.3 L134.3,280.3 L135.0,280.4 L135.7,280.2 L136.4,280.6 L137.1,280.1 L137.8,280.5 L138.5,280.4 L139.2,280.2 L139.9,280.4 L140.6,280.4 L141.3,280.6 L142.0,280.6 L142.7,280.4 L143.4,280.6 L144.1,280.6 L144.8,280.2 L145.5,280.6 L146.2,280.6 L146.9,280.7 L147.6,280.5 L148.3,280.4 L149.0,280.3 L149.7,280.5 L150.4,280.3 L151.1,280.6 L151.8,280.5 L152.5,280.6 L153.2,280.4 L153.9,280.4 L154.6,280.7 L155.3,280.6 L156.0,280.4 L156.7,280.5 L157.4,280.5 L158.1,280.6 L158.8,280.5 L159.5,280.4 L160.2,280.8 L160.9,280.7 L161.6,280.7 L162.3,280.4 L163.0,280.4 L163.7,280.7 L164.4,280.7 L165.1,280.6 L165.8,280.4 L166.5,280.7 L167.2,280.6 L167.9,280.5 L168.6,280.6 L169.3,280.6 L170.0,280.7 L170.7,280.7 L171.4,280.8 L172.1,280.4 L172.8,280.6 L173.5,280.8 L174.2,280.7 L174.9,280.6 L175.6,280.8" fill="none" stroke="#000" stroke-width="2.0" stroke-linejoin="round" stroke-linecap="butt" />
<path d="M25.8,333.2 L33.0,333.2" fill="none" stroke="#333" stroke-width="3.2" stroke-linejoin="round" stroke-linecap="butt" />
<path d="M84.0,283.3 L84.8,283.7 L85.6,283.4 L86.4,283.3 L87.2,283.0 L88.0,283.0 L88.8,282.6 L89.6,282.7 L90.4,282.4 L91.2,282.7 L92.0,282.5 L92.8,282.2 L93.6,282.2 L94.4,281.9 L95.2,281.8 L96.0,281.5 L96.8,281.8 L97.6,281.6 L98.4,281.5 L99.2,281.0 L100.0,281.4 L100.8,280.8 L101.6,281.1 L102.4,280.9 L103.2,280.6 L104.0,280.7 L104.8,280.9 L105.6,280.7 L106.4,280.4 L107.2,280.7 L108.0,280.3 L108.8,280.6 L109.6,280.2 L110.4,279.9 L111.2,280.4 L112.0,279.8 L112.8,279.9 L113.6,280.1 L114.4,279.7 L115.2,279.9 L116.0,280.0 L116.8,279.8 L117.6,279.6 L118.4,279.8 L119.2,279.8 L120.0,279.6 L120.8,279.6 L121.6,279.4 L122.4,279.5 L123.2,279.8 L124.0,279.8 L124.8,279.1 L125.6,279.2 L126.4,279.2 L127.2,279.6 L128.0,279.2 L128.8,279.2 L129.6,279.5 L130.4,279.2 L131.2,279.6 L132.0,279.3 L132.8,279.6 L133.6,279.5 L134.4,279.1 L135.2,279.5 L136.0,279.3 L136.8,279.1 L137.6,279.0 L138.4,279.4 L139.2,279.3 L140.0,279.2 L140.8,279.5 L141.6,279.1 L142.4,279.3 L143.2,279.1 L144.0,279.2 L144.8,279.5 L145.6,279.3 L146.4,279.1 L147.2,279.1 L148.0,279.4 L148.8,279.2 L149.6,279.5 L150.4,279.0 L151.2,279.5 L152.0,279.4 L152.8,279.5 L153.6,279.2 L154.4,279.0 L155.2,279.1 L156.0,279.4 L156.8,279.0 L157.6,279.1 L158.4,279.5 L159.2,279.5 L160.0,279.5 L160.8,279.5 L161.6,279.4 L162.4,279.5 L163.2,279.4 L164.0,279.4 L164.8,279.3 L165.6,279.1 L166.4,279.1 L167.2,279.2 L168.0,279.3 L168.8,279.1 L169.6,279.6 L170.4,279.4 L171.2,279.5 L172.0,279.6 L172.8,279.2 L173.6,279.6 L174.4,279.7 L175.2,279.3 L176.0,279.2" fill="none" stroke="#8a8a8a" stroke-width="1.7" stroke-linejoin="round" stroke-linecap="butt" />
<path d="M120.0,282.4 L120.8,282.4 L121.6,282.3 L122.4,282.1 L123.2,282.2 L124.0,281.9 L124.8,281.9 L125.6,282.0 L126.4,282.2 L127.2,281.8 L128.0,282.3 L128.8,281.7 L129.6,282.3 L130.4,281.8 L131.2,282.2 L132.0,282.1 L132.8,282.2 L133.6,281.9 L134.4,282.0 L135.2,281.7 L136.0,282.1 L136.8,281.6 L137.6,282.1 L138.4,281.9 L139.2,281.5 L140.0,282.0 L140.8,281.6 L141.6,281.5 L142.4,281.6 L143.2,281.4 L144.0,281.6 L144.8,281.8 L145.6,282.0 L146.4,281.7 L147.2,281.9 L148.0,281.8 L148.8,281.7 L149.6,281.5 L150.4,281.4 L151.2,281.4 L152.0,281.6 L152.8,281.4 L153.6,281.7 L154.4,281.4 L155.2,281.6 L156.0,281.6 L156.8,281.6 L157.6,281.3 L158.4,281.4 L159.2,281.6 L160.0,281.3 L160.8,281.6 L161.6,281.8 L162.4,281.4 L163.2,281.8 L164.0,281.5 L164.8,281.7 L165.6,281.5 L166.4,281.6 L167.2,281.6 L168.0,281.3 L168.8,281.5 L169.6,281.5 L170.4,281.4 L171.2,281.5 L172.0,281.7 L172.8,281.6 L173.6,281.6 L174.4,281.2 L175.2,281.5 L176.0,281.5" fill="none" stroke="#555" stroke-width="1.4" stroke-linejoin="round" stroke-linecap="butt" />
<path d="M25.6,338.6 L35,345 L30.6,345.4 L31.4,348.6 L26.2,348.8 L26.6,346 Z" fill="#000"/>
<path d="M26.6,346.0 L24.6,349.0" fill="none" stroke="#000" stroke-width="1.5" stroke-linejoin="round" stroke-linecap="butt" />
<path d="M103.2,295.4 L113.0,295.4" fill="none" stroke="#000" stroke-width="2" stroke-linejoin="round" stroke-linecap="butt" />
<text x="119.7" y="298.4" text-anchor="start" font-size="8.5" font-weight="normal" fill="#000" textLength="17.8" lengthAdjust="spacingAndGlyphs" >hFcR</text>
<path d="M103.2,302.3 L113.0,302.3" fill="none" stroke="#3a3a3a" stroke-width="2" stroke-linejoin="round" stroke-linecap="butt" />
<text x="119.7" y="305.3" text-anchor="start" font-size="8.5" font-weight="normal" fill="#000" textLength="44.3" lengthAdjust="spacingAndGlyphs" >hFcR/CDGI-/-</text>
<path d="M103.2,312.2 L113.0,312.2" fill="none" stroke="#8a8a8a" stroke-width="2" stroke-linejoin="round" stroke-linecap="butt" />
<text x="119.7" y="315.2" text-anchor="start" font-size="8.5" font-weight="normal" fill="#000" textLength="62.3" lengthAdjust="spacingAndGlyphs" >hFcR + 2-MeSAMP</text>
<path d="M103.2,320.8 L113.2,320.8" fill="none" stroke="#444" stroke-width="1.8" stroke-linejoin="round" stroke-linecap="butt" stroke-dasharray="3.6 3.2" />
<text x="119.7" y="323.8" text-anchor="start" font-size="8.5" font-weight="normal" fill="#000" textLength="89.3" lengthAdjust="spacingAndGlyphs" >hFcR/CDGI-/- + 2-MeSAMP</text>
<path d="M276.8,4.1 L276.8,107.9" fill="none" stroke="#000" stroke-width="1.2" stroke-linejoin="round" stroke-linecap="butt" />
<path d="M276.2,107.9 L431.3,107.9" fill="none" stroke="#000" stroke-width="1.3" stroke-linejoin="round" stroke-linecap="butt" />
<path d="M273.4,87.2 L276.8,87.2" fill="none" stroke="#000" stroke-width="1.1" stroke-linejoin="round" stroke-linecap="butt" />
<text x="272.6" y="89.84" text-anchor="end" font-size="7.2" font-weight="bold" fill="#000" >20</text>
<path d="M273.4,66.6 L276.8,66.6" fill="none" stroke="#000" stroke-width="1.1" stroke-linejoin="round" stroke-linecap="butt" />
<text x="272.6" y="69.18" text-anchor="end" font-size="7.2" font-weight="bold" fill="#000" >40</text>
<path d="M273.4,45.9 L276.8,45.9" fill="none" stroke="#000" stroke-width="1.1" stroke-linejoin="round" stroke-linecap="butt" />
<text x="272.6" y="48.519999999999996" text-anchor="end" font-size="7.2" font-weight="bold" fill="#000" >60</text>
<path d="M273.4,25.3 L276.8,25.3" fill="none" stroke="#000" stroke-width="1.1" stroke-linejoin="round" stroke-linecap="butt" />
<text x="272.6" y="27.860000000000007" text-anchor="end" font-size="7.2" font-weight="bold" fill="#000" >80</text>
<path d="M273.4,4.6 L276.8,4.6" fill="none" stroke="#000" stroke-width="1.1" stroke-linejoin="round" stroke-linecap="butt" />
<text x="272.6" y="7.199999999999994" text-anchor="end" font-size="7.2" font-weight="bold" fill="#000" >100</text>
<text transform="translate(258.9,47.5) rotate(-90)" text-anchor="middle" font-size="8" font-weight="bold" textLength="90" lengthAdjust="spacingAndGlyphs" stroke="#000" stroke-width="0.25">max. aggregation (%)</text>
<path d="M289.6,107.9 L289.6,110.5" fill="none" stroke="#000" stroke-width="1.0" stroke-linejoin="round" stroke-linecap="butt" />
<text x="289.6" y="118.8" text-anchor="middle" font-size="7.2" font-weight="bold" fill="#000" >0.3</text>
<path d="M315.3,107.9 L315.3,110.5" fill="none" stroke="#000" stroke-width="1.0" stroke-linejoin="round" stroke-linecap="butt" />
<text x="315.3" y="118.8" text-anchor="middle" font-size="7.2" font-weight="bold" fill="#000" >0.5</text>
<path d="M341.0,107.9 L341.0,110.5" fill="none" stroke="#000" stroke-width="1.0" stroke-linejoin="round" stroke-linecap="butt" />
<text x="341" y="118.8" text-anchor="middle" font-size="7.2" font-weight="bold" fill="#000" >1.0</text>
<path d="M366.7,107.9 L366.7,110.5" fill="none" stroke="#000" stroke-width="1.0" stroke-linejoin="round" stroke-linecap="butt" />
<text x="366.7" y="118.8" text-anchor="middle" font-size="7.2" font-weight="bold" fill="#000" >2.5</text>
<path d="M392.4,107.9 L392.4,110.5" fill="none" stroke="#000" stroke-width="1.0" stroke-linejoin="round" stroke-linecap="butt" />
<text x="392.4" y="118.8" text-anchor="middle" font-size="7.2" font-weight="bold" fill="#000" >5.0</text>
<path d="M418.1,107.9 L418.1,110.5" fill="none" stroke="#000" stroke-width="1.0" stroke-linejoin="round" stroke-linecap="butt" />
<text x="418.1" y="118.8" text-anchor="middle" font-size="7.2" font-weight="bold" fill="#000" >10.0</text>
<path d="M308.5,29.8 L308.5,25.4" fill="none" stroke="#000" stroke-width="1.25" stroke-linejoin="round" stroke-linecap="butt" />
<path d="M306.8,25.7 L310.2,25.7" fill="none" stroke="#000" stroke-width="1.5" stroke-linejoin="round" stroke-linecap="butt" />
<rect x="305.65" y="29.8" width="5.70" height="78.10" fill="#000"/>
<path d="M315.3,97.0 L315.3,85.0" fill="none" stroke="#000" stroke-width="1.25" stroke-linejoin="round" stroke-linecap="butt" />
<path d="M313.6,85.3 L317.0,85.3" fill="none" stroke="#000" stroke-width="1.5" stroke-linejoin="round" stroke-linecap="butt" />
<rect x="312.95" y="97.5" width="4.70" height="10.40" fill="#a0a0a0" stroke="#000" stroke-width="1"/>
<path d="M334.2,24.8 L334.2,24.2" fill="none" stroke="#000" stroke-width="1.25" stroke-linejoin="round" stroke-linecap="butt" />
<path d="M332.5,24.5 L335.9,24.5" fill="none" stroke="#000" stroke-width="1.5" stroke-linejoin="round" stroke-linecap="butt" />
<rect x="331.34999999999997" y="24.8" width="5.70" height="83.10" fill="#000"/>
<path d="M341.0,70.8 L341.0,53.5" fill="none" stroke="#000" stroke-width="1.25" stroke-linejoin="round" stroke-linecap="butt" />
<path d="M339.3,53.8 L342.7,53.8" fill="none" stroke="#000" stroke-width="1.5" stroke-linejoin="round" stroke-linecap="butt" />
<rect x="338.65" y="71.3" width="4.70" height="36.60" fill="#a0a0a0" stroke="#000" stroke-width="1"/>
<path d="M359.9,27.7 L359.9,25.1" fill="none" stroke="#000" stroke-width="1.25" stroke-linejoin="round" stroke-linecap="butt" />
<path d="M358.2,25.4 L361.6,25.4" fill="none" stroke="#000" stroke-width="1.5" stroke-linejoin="round" stroke-linecap="butt" />
<rect x="357.04999999999995" y="27.7" width="5.70" height="80.20" fill="#000"/>
<path d="M366.7,30.8 L366.7,28.5" fill="none" stroke="#000" stroke-width="1.25" stroke-linejoin="round" stroke-linecap="butt" />
<path d="M365.0,28.8 L368.4,28.8" fill="none" stroke="#000" stroke-width="1.5" stroke-linejoin="round" stroke-linecap="butt" />
<rect x="364.34999999999997" y="31.3" width="4.70" height="76.60" fill="#a0a0a0" stroke="#000" stroke-width="1"/>
<path d="M373.5,75.2 L373.5,58.8" fill="none" stroke="#000" stroke-width="1.25" stroke-linejoin="round" stroke-linecap="butt" />
<path d="M371.8,59.1 L375.2,59.1" fill="none" stroke="#000" stroke-width="1.5" stroke-linejoin="round" stroke-linecap="butt" />
<rect x="371.15" y="75.7" width="4.70" height="32.20" fill="#646464" stroke="#000" stroke-width="1"/>
<path d="M385.6,23.4 L385.6,16.8" fill="none" stroke="#000" stroke-width="1.25" stroke-linejoin="round" stroke-linecap="butt" />
<path d="M383.9,17.1 L387.3,17.1" fill="none" stroke="#000" stroke-width="1.5" stroke-linejoin="round" stroke-linecap="butt" />
<rect x="382.74999999999994" y="23.4" width="5.70" height="84.50" fill="#000"/>
<path d="M392.4,26.8 L392.4,19.9" fill="none" stroke="#000" stroke-width="1.25" stroke-linejoin="round" stroke-linecap="butt" />
<path d="M390.7,20.2 L394.1,20.2" fill="none" stroke="#000" stroke-width="1.5" stroke-linejoin="round" stroke-linecap="butt" />
<rect x="390.04999999999995" y="27.3" width="4.70" height="80.60" fill="#a0a0a0" stroke="#000" stroke-width="1"/>
<path d="M399.2,39.4 L399.2,33.7" fill="none" stroke="#000" stroke-width="1.25" stroke-linejoin="round" stroke-linecap="butt" />
<path d="M397.5,34.0 L400.9,34.0" fill="none" stroke="#000" stroke-width="1.5" stroke-linejoin="round" stroke-linecap="butt" />
<rect x="396.84999999999997" y="39.9" width="4.70" height="68.00" fill="#646464" stroke="#000" stroke-width="1"/>
<path d="M411.3,27.3 L411.3,25.6" fill="none" stroke="#000" stroke-width="1.25" stroke-linejoin="round" stroke-linecap="butt" />
<path d="M409.6,25.9 L413.0,25.9" fill="none" stroke="#000" stroke-width="1.5" stroke-linejoin="round" stroke-linecap="butt" />
<rect x="408.45" y="27.3" width="5.70" height="80.60" fill="#000"/>
<path d="M418.1,30.8 L418.1,27.7" fill="none" stroke="#000" stroke-width="1.25" stroke-linejoin="round" stroke-linecap="butt" />
<path d="M416.4,28.0 L419.8,28.0" fill="none" stroke="#000" stroke-width="1.5" stroke-linejoin="round" stroke-linecap="butt" />
<rect x="415.75" y="31.3" width="4.70" height="76.60" fill="#a0a0a0" stroke="#000" stroke-width="1"/>
<path d="M424.9,48.8 L424.9,41.2" fill="none" stroke="#000" stroke-width="1.25" stroke-linejoin="round" stroke-linecap="butt" />
<path d="M423.2,41.5 L426.6,41.5" fill="none" stroke="#000" stroke-width="1.5" stroke-linejoin="round" stroke-linecap="butt" />
<rect x="422.55" y="49.3" width="4.70" height="58.60" fill="#646464" stroke="#000" stroke-width="1"/>
<text x="314.09999999999997" y="82.63" text-anchor="middle" font-size="8.4" font-weight="bold" fill="#000" >*</text>
<text x="318.7" y="82.63" text-anchor="middle" font-size="8.4" font-weight="bold" fill="#000" >*</text>
<text x="341.2" y="50.63" text-anchor="middle" font-size="8.4" font-weight="bold" fill="#000" >*</text>
<text x="373.7" y="57.83" text-anchor="middle" font-size="8.4" font-weight="bold" fill="#000" >*</text>
<text x="425.3" y="40.33" text-anchor="middle" font-size="8.4" font-weight="bold" fill="#000" >*</text>
<path d="M367.0,22.8 L375.8,22.8" fill="none" stroke="#000" stroke-width="1.5" stroke-linejoin="round" stroke-linecap="butt" />
<text x="371.2" y="23.43" text-anchor="middle" font-size="8.4" font-weight="bold" fill="#000" >*</text>
<path d="M418.9,22.8 L427.7,22.8" fill="none" stroke="#000" stroke-width="1.5" stroke-linejoin="round" stroke-linecap="butt" />
<text x="423.2" y="23.43" text-anchor="middle" font-size="8.4" font-weight="bold" fill="#000" >*</text>
<text x="360" y="132.8" text-anchor="middle" font-size="9" font-weight="bold" fill="#000" textLength="69.2" lengthAdjust="spacingAndGlyphs" >anti-CD9 (<tspan font-style="italic">µ</tspan>g/ml)</text>
<path d="M278.4,129.7 L278.4,225.7" fill="none" stroke="#000" stroke-width="1.2" stroke-linejoin="round" stroke-linecap="butt" />
<path d="M277.8,225.7 L420.8,225.7" fill="none" stroke="#000" stroke-width="1.3" stroke-linejoin="round" stroke-linecap="butt" />
<path d="M275.6,225.7 L278.4,225.7" fill="none" stroke="#000" stroke-width="1.2" stroke-linejoin="round" stroke-linecap="butt" />
<text x="274.4" y="228.1" text-anchor="end" font-size="6.6" font-weight="bold" fill="#000" >0</text>
<path d="M275.6,206.6 L278.4,206.6" fill="none" stroke="#000" stroke-width="1.2" stroke-linejoin="round" stroke-linecap="butt" />
<text x="274.4" y="209.0" text-anchor="end" font-size="6.6" font-weight="bold" fill="#000" >2</text>
<path d="M275.6,187.5 L278.4,187.5" fill="none" stroke="#000" stroke-width="1.2" stroke-linejoin="round" stroke-linecap="butt" />
<text x="274.4" y="189.9" text-anchor="end" font-size="6.6" font-weight="bold" fill="#000" >4</text>
<path d="M275.6,168.4 L278.4,168.4" fill="none" stroke="#000" stroke-width="1.2" stroke-linejoin="round" stroke-linecap="butt" />
<text x="274.4" y="170.79999999999998" text-anchor="end" font-size="6.6" font-weight="bold" fill="#000" >6</text>
<path d="M275.6,149.3 L278.4,149.3" fill="none" stroke="#000" stroke-width="1.2" stroke-linejoin="round" stroke-linecap="butt" />
<text x="274.4" y="151.7" text-anchor="end" font-size="6.6" font-weight="bold" fill="#000" >8</text>
<path d="M275.6,130.2 L278.4,130.2" fill="none" stroke="#000" stroke-width="1.2" stroke-linejoin="round" stroke-linecap="butt" />
<text x="274.4" y="132.6" text-anchor="end" font-size="6.6" font-weight="bold" fill="#000" >10</text>
<text transform="translate(263.8,178.6) rotate(-90)" text-anchor="middle" font-size="8" font-weight="bold" textLength="101" lengthAdjust="spacingAndGlyphs" stroke="#000" stroke-width="0.25">delay of aggregation (min)</text>
<path d="M302.9,225.7 L302.9,228.3" fill="none" stroke="#000" stroke-width="1.0" stroke-linejoin="round" stroke-linecap="butt" />
<text x="302.9" y="235.9" text-anchor="middle" font-size="6.9" font-weight="bold" fill="#000" textLength="12.3" lengthAdjust="spacingAndGlyphs" >2.50</text>
<path d="M350.4,225.7 L350.4,228.3" fill="none" stroke="#000" stroke-width="1.0" stroke-linejoin="round" stroke-linecap="butt" />
<text x="350.4" y="235.9" text-anchor="middle" font-size="6.9" font-weight="bold" fill="#000" textLength="12.3" lengthAdjust="spacingAndGlyphs" >5.00</text>
<path d="M398.0,225.7 L398.0,228.3" fill="none" stroke="#000" stroke-width="1.0" stroke-linejoin="round" stroke-linecap="butt" />
<text x="398" y="235.9" text-anchor="middle" font-size="6.9" font-weight="bold" fill="#000" textLength="16" lengthAdjust="spacingAndGlyphs" >10.00</text>
<path d="M289.5,204.0 L289.5,199.8" fill="none" stroke="#000" stroke-width="1.25" stroke-linejoin="round" stroke-linecap="butt" />
<path d="M287.2,200.1 L291.8,200.1" fill="none" stroke="#000" stroke-width="1.5" stroke-linejoin="round" stroke-linecap="butt" />
<rect x="284.8" y="204" width="9.40" height="21.70" fill="#000"/>
<path d="M302.9,174.6 L302.9,166.3" fill="none" stroke="#000" stroke-width="1.25" stroke-linejoin="round" stroke-linecap="butt" />
<path d="M300.6,166.6 L305.2,166.6" fill="none" stroke="#000" stroke-width="1.5" stroke-linejoin="round" stroke-linecap="butt" />
<rect x="298.7" y="175.1" width="8.40" height="50.60" fill="#a0a0a0" stroke="#000" stroke-width="1"/>
<path d="M316.3,155.8 L316.3,149.6" fill="none" stroke="#000" stroke-width="1.25" stroke-linejoin="round" stroke-linecap="butt" />
<path d="M314.0,149.9 L318.6,149.9" fill="none" stroke="#000" stroke-width="1.5" stroke-linejoin="round" stroke-linecap="butt" />
<rect x="312.09999999999997" y="156.3" width="8.40" height="69.40" fill="#646464" stroke="#000" stroke-width="1"/>
<path d="M337.0,209.1 L337.0,206.9" fill="none" stroke="#000" stroke-width="1.25" stroke-linejoin="round" stroke-linecap="butt" />
<path d="M334.7,207.2 L339.3,207.2" fill="none" stroke="#000" stroke-width="1.5" stroke-linejoin="round" stroke-linecap="butt" />
<rect x="332.3" y="209.1" width="9.40" height="16.60" fill="#000"/>
<path d="M350.4,193.6 L350.4,188.8" fill="none" stroke="#000" stroke-width="1.25" stroke-linejoin="round" stroke-linecap="butt" />
<path d="M348.1,189.1 L352.7,189.1" fill="none" stroke="#000" stroke-width="1.5" stroke-linejoin="round" stroke-linecap="butt" />
<rect x="346.2" y="194.1" width="8.40" height="31.60" fill="#a0a0a0" stroke="#000" stroke-width="1"/>
<path d="M363.8,175.4 L363.8,170.0" fill="none" stroke="#000" stroke-width="1.25" stroke-linejoin="round" stroke-linecap="butt" />
<path d="M361.5,170.3 L366.1,170.3" fill="none" stroke="#000" stroke-width="1.5" stroke-linejoin="round" stroke-linecap="butt" />
<rect x="359.59999999999997" y="175.9" width="8.40" height="49.80" fill="#646464" stroke="#000" stroke-width="1"/>
<path d="M384.6,210.5 L384.6,208.2" fill="none" stroke="#000" stroke-width="1.25" stroke-linejoin="round" stroke-linecap="butt" />
<path d="M382.3,208.5 L386.9,208.5" fill="none" stroke="#000" stroke-width="1.5" stroke-linejoin="round" stroke-linecap="butt" />
<rect x="379.90000000000003" y="210.5" width="9.40" height="15.20" fill="#000"/>
<path d="M398.0,200.4 L398.0,195.7" fill="none" stroke="#000" stroke-width="1.25" stroke-linejoin="round" stroke-linecap="butt" />
<path d="M395.7,196.0 L400.3,196.0" fill="none" stroke="#000" stroke-width="1.5" stroke-linejoin="round" stroke-linecap="butt" />
<rect x="393.8" y="200.9" width="8.40" height="24.80" fill="#a0a0a0" stroke="#000" stroke-width="1"/>
<path d="M411.4,183.5 L411.4,178.6" fill="none" stroke="#000" stroke-width="1.25" stroke-linejoin="round" stroke-linecap="butt" />
<path d="M409.1,178.9 L413.7,178.9" fill="none" stroke="#000" stroke-width="1.5" stroke-linejoin="round" stroke-linecap="butt" />
<rect x="407.2" y="184.0" width="8.40" height="41.70" fill="#646464" stroke="#000" stroke-width="1"/>
<text x="300.59999999999997" y="166.43" text-anchor="middle" font-size="8.4" font-weight="bold" fill="#000" >*</text>
<text x="305.2" y="166.43" text-anchor="middle" font-size="8.4" font-weight="bold" fill="#000" >*</text>
<text x="313.3" y="149.33" text-anchor="middle" font-size="8.4" font-weight="bold" fill="#000" >*</text>
<text x="317.90000000000003" y="149.33" text-anchor="middle" font-size="8.4" font-weight="bold" fill="#000" >*</text>
<text x="350.4" y="188.83" text-anchor="middle" font-size="8.4" font-weight="bold" fill="#000" >*</text>
<text x="361.4" y="170.53" text-anchor="middle" font-size="8.4" font-weight="bold" fill="#000" >*</text>
<text x="366.0" y="170.53" text-anchor="middle" font-size="8.4" font-weight="bold" fill="#000" >*</text>
<text x="409.3" y="179.03" text-anchor="middle" font-size="8.4" font-weight="bold" fill="#000" >*</text>
<text x="413.90000000000003" y="179.03" text-anchor="middle" font-size="8.4" font-weight="bold" fill="#000" >*</text>
<path d="M349.7,161.0 L362.8,161.0" fill="none" stroke="#000" stroke-width="1.5" stroke-linejoin="round" stroke-linecap="butt" />
<text x="356.3" y="160.83" text-anchor="middle" font-size="8.4" font-weight="bold" fill="#000" >*</text>
<path d="M397.6,169.6 L410.7,169.6" fill="none" stroke="#000" stroke-width="1.5" stroke-linejoin="round" stroke-linecap="butt" />
<text x="404.1" y="169.53" text-anchor="middle" font-size="8.4" font-weight="bold" fill="#000" >*</text>
<text x="346.1" y="246.3" text-anchor="middle" font-size="8.7" font-weight="bold" fill="#000" textLength="67.3" lengthAdjust="spacingAndGlyphs" >anti-CD9 (<tspan font-style="italic">µ</tspan>g/ml)</text>
<rect x="431.4" y="133.70" width="12" height="6.3" rx="1" fill="#000"/>
<text x="447.9" y="139.30" text-anchor="start" font-size="7.5" font-weight="normal" fill="#000" textLength="18.3" lengthAdjust="spacingAndGlyphs" >hFcR</text>
<rect x="432.1" y="145.35" width="10.6" height="4.9" rx="0.6" fill="#a0a0a0" stroke="#000" stroke-width="1.4"/>
<text x="447.9" y="150.25" text-anchor="start" font-size="7.5" font-weight="normal" fill="#000" textLength="68" lengthAdjust="spacingAndGlyphs" >hFcR + 2-MeSAMP</text>
<rect x="432.1" y="156.30" width="10.6" height="4.9" rx="0.6" fill="#646464" stroke="#000" stroke-width="1.4"/>
<text x="447.9" y="161.20" text-anchor="start" font-size="7.5" font-weight="normal" fill="#000" textLength="53.8" lengthAdjust="spacingAndGlyphs" >hFcR / CDGI-/-</text>
<path d="M280.3,257.3 L280.3,351.3" fill="none" stroke="#000" stroke-width="1.4" stroke-linejoin="round" stroke-linecap="butt" />
<path d="M279.6,351.3 L421.5,351.3" fill="none" stroke="#000" stroke-width="1.4" stroke-linejoin="round" stroke-linecap="butt" />
<path d="M277.7,351.3 L280.3,351.3" fill="none" stroke="#000" stroke-width="1.5" stroke-linejoin="round" stroke-linecap="butt" />
<text x="276.4" y="354.0" text-anchor="end" font-size="7.5" font-weight="bold" fill="#000" >0</text>
<path d="M277.7,334.2 L280.3,334.2" fill="none" stroke="#000" stroke-width="1.5" stroke-linejoin="round" stroke-linecap="butt" />
<text x="276.4" y="336.94" text-anchor="end" font-size="7.5" font-weight="bold" fill="#000" >20</text>
<path d="M277.7,317.2 L280.3,317.2" fill="none" stroke="#000" stroke-width="1.5" stroke-linejoin="round" stroke-linecap="butt" />
<text x="276.4" y="319.88" text-anchor="end" font-size="7.5" font-weight="bold" fill="#000" >40</text>
<path d="M277.7,300.1 L280.3,300.1" fill="none" stroke="#000" stroke-width="1.5" stroke-linejoin="round" stroke-linecap="butt" />
<text x="276.4" y="302.82" text-anchor="end" font-size="7.5" font-weight="bold" fill="#000" >60</text>
<path d="M277.7,283.1 L280.3,283.1" fill="none" stroke="#000" stroke-width="1.5" stroke-linejoin="round" stroke-linecap="butt" />
<text x="276.4" y="285.76" text-anchor="end" font-size="7.5" font-weight="bold" fill="#000" >80</text>
<path d="M277.7,266.0 L280.3,266.0" fill="none" stroke="#000" stroke-width="1.5" stroke-linejoin="round" stroke-linecap="butt" />
<text x="276.4" y="268.7" text-anchor="end" font-size="7.5" font-weight="bold" fill="#000" >100</text>
<text transform="translate(258.5,309.1) rotate(-90)" text-anchor="middle" font-size="7.9" font-weight="bold" textLength="90.8" lengthAdjust="spacingAndGlyphs" stroke="#000" stroke-width="0.25">max. aggregation (%)</text>
<path d="M294.6,351.3 L294.6,354.1" fill="none" stroke="#000" stroke-width="1.0" stroke-linejoin="round" stroke-linecap="butt" />
<text x="294.6" y="362.1" text-anchor="middle" font-size="7.8" font-weight="bold" fill="#000" >0.100</text>
<path d="M322.8,351.3 L322.8,354.1" fill="none" stroke="#000" stroke-width="1.0" stroke-linejoin="round" stroke-linecap="butt" />
<text x="322.8" y="362.1" text-anchor="middle" font-size="7.8" font-weight="bold" fill="#000" >0.175</text>
<path d="M351.2,351.3 L351.2,354.1" fill="none" stroke="#000" stroke-width="1.0" stroke-linejoin="round" stroke-linecap="butt" />
<text x="351.2" y="362.1" text-anchor="middle" font-size="7.8" font-weight="bold" fill="#000" >0.250</text>
<path d="M379.3,351.3 L379.3,354.1" fill="none" stroke="#000" stroke-width="1.0" stroke-linejoin="round" stroke-linecap="butt" />
<text x="379.3" y="362.1" text-anchor="middle" font-size="7.8" font-weight="bold" fill="#000" >0.500</text>
<path d="M407.5,351.3 L407.5,354.1" fill="none" stroke="#000" stroke-width="1.0" stroke-linejoin="round" stroke-linecap="butt" />
<text x="407.5" y="362.1" text-anchor="middle" font-size="7.8" font-weight="bold" fill="#000" >1.000</text>
<path d="M314.8,295.8 L314.8,292.5" fill="none" stroke="#000" stroke-width="1.25" stroke-linejoin="round" stroke-linecap="butt" />
<path d="M313.1,292.8 L316.5,292.8" fill="none" stroke="#000" stroke-width="1.5" stroke-linejoin="round" stroke-linecap="butt" />
<rect x="311.75" y="295.8" width="6.10" height="55.50" fill="#000"/>
<path d="M343.2,279.6 L343.2,277.7" fill="none" stroke="#000" stroke-width="1.25" stroke-linejoin="round" stroke-linecap="butt" />
<path d="M341.5,278.0 L344.9,278.0" fill="none" stroke="#000" stroke-width="1.5" stroke-linejoin="round" stroke-linecap="butt" />
<rect x="340.15" y="279.6" width="6.10" height="71.70" fill="#000"/>
<path d="M351.2,286.9 L351.2,284.2" fill="none" stroke="#000" stroke-width="1.25" stroke-linejoin="round" stroke-linecap="butt" />
<path d="M349.5,284.5 L352.9,284.5" fill="none" stroke="#000" stroke-width="1.5" stroke-linejoin="round" stroke-linecap="butt" />
<rect x="348.65" y="287.4" width="5.10" height="63.90" fill="#a0a0a0" stroke="#000" stroke-width="1"/>
<path d="M359.2,289.1 L359.2,286.3" fill="none" stroke="#000" stroke-width="1.25" stroke-linejoin="round" stroke-linecap="butt" />
<path d="M357.5,286.6 L360.9,286.6" fill="none" stroke="#000" stroke-width="1.5" stroke-linejoin="round" stroke-linecap="butt" />
<rect x="356.65" y="289.6" width="5.10" height="61.70" fill="#646464" stroke="#000" stroke-width="1"/>
<path d="M371.3,278.3 L371.3,275.8" fill="none" stroke="#000" stroke-width="1.25" stroke-linejoin="round" stroke-linecap="butt" />
<path d="M369.6,276.1 L373.0,276.1" fill="none" stroke="#000" stroke-width="1.5" stroke-linejoin="round" stroke-linecap="butt" />
<rect x="368.25" y="278.3" width="6.10" height="73.00" fill="#000"/>
<path d="M379.3,278.4 L379.3,276.1" fill="none" stroke="#000" stroke-width="1.25" stroke-linejoin="round" stroke-linecap="butt" />
<path d="M377.6,276.4 L381.0,276.4" fill="none" stroke="#000" stroke-width="1.5" stroke-linejoin="round" stroke-linecap="butt" />
<rect x="376.75" y="278.9" width="5.10" height="72.40" fill="#a0a0a0" stroke="#000" stroke-width="1"/>
<path d="M387.3,276.3 L387.3,273.7" fill="none" stroke="#000" stroke-width="1.25" stroke-linejoin="round" stroke-linecap="butt" />
<path d="M385.6,274.0 L389.0,274.0" fill="none" stroke="#000" stroke-width="1.5" stroke-linejoin="round" stroke-linecap="butt" />
<rect x="384.75" y="276.8" width="5.10" height="74.50" fill="#646464" stroke="#000" stroke-width="1"/>
<path d="M399.5,271.0 L399.5,267.5" fill="none" stroke="#000" stroke-width="1.25" stroke-linejoin="round" stroke-linecap="butt" />
<path d="M397.8,267.8 L401.2,267.8" fill="none" stroke="#000" stroke-width="1.5" stroke-linejoin="round" stroke-linecap="butt" />
<rect x="396.45" y="271" width="6.10" height="80.30" fill="#000"/>
<path d="M407.5,273.7 L407.5,270.5" fill="none" stroke="#000" stroke-width="1.25" stroke-linejoin="round" stroke-linecap="butt" />
<path d="M405.8,270.8 L409.2,270.8" fill="none" stroke="#000" stroke-width="1.5" stroke-linejoin="round" stroke-linecap="butt" />
<rect x="404.95" y="274.2" width="5.10" height="77.10" fill="#a0a0a0" stroke="#000" stroke-width="1"/>
<path d="M415.5,276.4 L415.5,273.4" fill="none" stroke="#000" stroke-width="1.25" stroke-linejoin="round" stroke-linecap="butt" />
<path d="M413.8,273.7 L417.2,273.7" fill="none" stroke="#000" stroke-width="1.5" stroke-linejoin="round" stroke-linecap="butt" />
<rect x="412.95" y="276.9" width="5.10" height="74.40" fill="#646464" stroke="#000" stroke-width="1"/>
<text x="345.4" y="374.1" text-anchor="middle" font-size="8.9" font-weight="bold" fill="#000" textLength="48.4" lengthAdjust="spacingAndGlyphs" >Par4p (mM)</text>
<rect x="431.7" y="260.30" width="11.5" height="7.4" rx="1" fill="#000"/>
<text x="448.5" y="267.60" text-anchor="start" font-size="8.1" font-weight="normal" fill="#000" textLength="13" lengthAdjust="spacingAndGlyphs" >WT</text>
<rect x="432.4" y="271.95" width="10.1" height="6" rx="0.6" fill="#a0a0a0" stroke="#000" stroke-width="1.4"/>
<text x="448.5" y="278.55" text-anchor="start" font-size="8.1" font-weight="normal" fill="#000" textLength="70.5" lengthAdjust="spacingAndGlyphs" >WT + 2-MeSAMP</text>
<rect x="432.4" y="282.90" width="10.1" height="6" rx="0.6" fill="#646464" stroke="#000" stroke-width="1.4"/>
<text x="448.5" y="289.50" text-anchor="start" font-size="8.1" font-weight="normal" fill="#000" textLength="31.2" lengthAdjust="spacingAndGlyphs" >CDGI-/-</text>
</svg>
</body></html>
